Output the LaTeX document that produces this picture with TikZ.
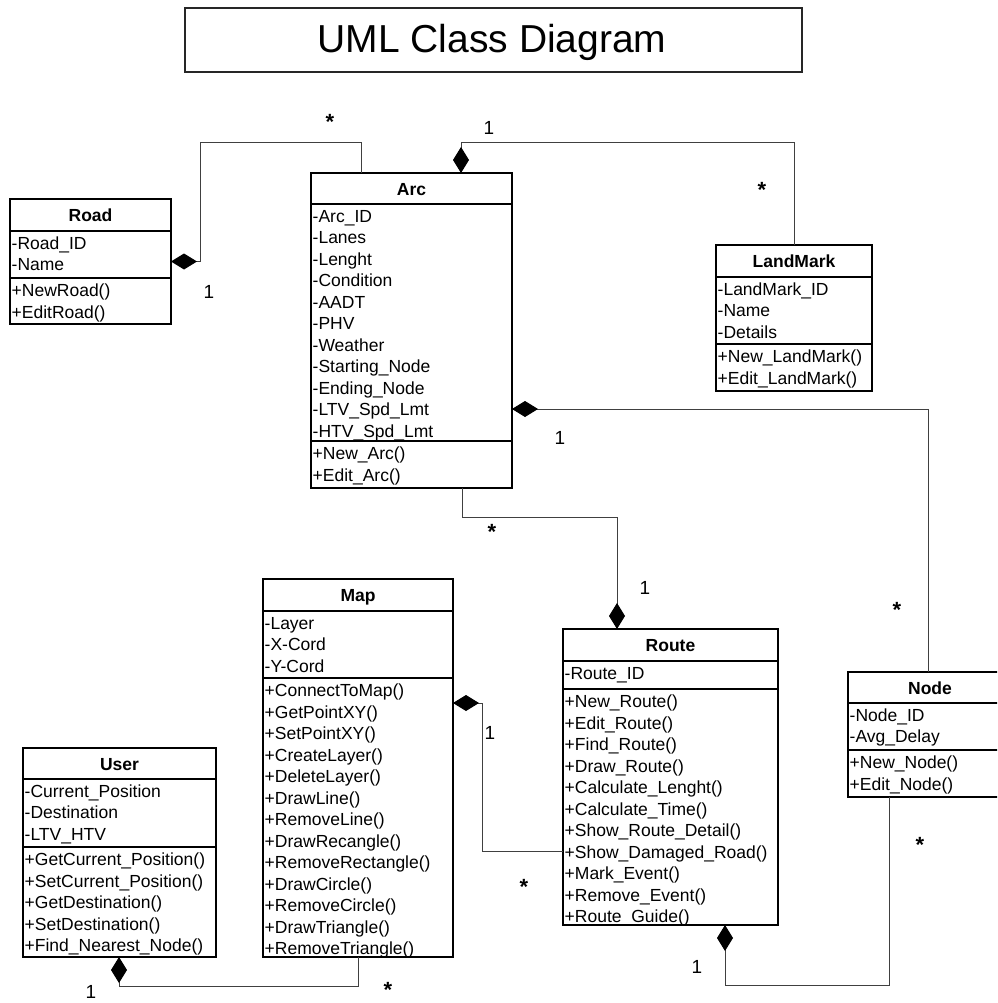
\documentclass[tikz,border=0pt]{standalone}
\usepackage{fontspec}
\setmainfont{Liberation Sans}
\usetikzlibrary{arrows.meta,calc}
\tikzset{
 classbox/.style={draw=black, line width=1.4pt, inner sep=0pt, outer sep=0pt, fill=white},
 sepline/.style={draw=black, line width=1.4pt},
 conn/.style={draw=black!75, line width=1pt},
 comp/.style={conn, -{Diamond[length=26pt,width=16pt,color=black,fill=black]}},
 txt/.style={inner sep=0pt, font=\fontsize{17.5}{21}\selectfont},
 ttl/.style={inner sep=0pt, font=\fontsize{17.5}{21}\selectfont\bfseries},
 mult/.style={inner sep=0pt, font=\fontsize{19}{19}\selectfont},
 star/.style={inner sep=0pt, font=\fontsize{22}{22}\selectfont\bfseries},
}
\newcommand\umlclass[8]{%
 \node[classbox, minimum width={#3-#2}, minimum height={#7-#4}, anchor=north west] (#1) at (#2,#4) {};
 \draw[sepline] (#2,#5) -- (#3,#5);
 \draw[sepline] (#2,#6) -- (#3,#6);
 \node[ttl, anchor=base] (#1-title) at ({(#2+#3)/2},{(#4+#5)/2+6.5}) {#8};
}
\newcommand\umllines[4]{%
 \foreach \t [count=\i] in {#4} {\node[txt, anchor=base west] (#1-\i) at ({#2+1.5},{#3+(\i-1)*21.5}) {\t};}
}
\begin{document}
\begin{tikzpicture}[x=1pt,y=-1pt]
\useasboundingbox (0,0) rectangle (997,1003);
\clip (0,0) rectangle (997,1003);
\fill[white] (0,0) rectangle (997,1003);

% title
\node[draw=black!85, line width=2pt, minimum width=617, minimum height=64, anchor=north west, inner sep=0pt] (titlebox) at (184,7) {};
\node[inner sep=0pt, font=\fontsize{39}{39}\selectfont, anchor=base] (titletext) at (492,53) {UML Class Diagram};

% classes
\umlclass{road}{10}{171}{199}{231}{278}{324}{Road}
\umllines{roada}{10}{249}{-Road\_ID,-Name}
\umllines{roadm}{10}{296.5}{+NewRoad(),+EditRoad()}

\umlclass{arc}{311}{512}{173}{204}{441}{488}{Arc}
\umllines{arca}{311}{222}{-Arc\_ID,-Lanes,-Lenght,-Condition,-AADT,-PHV,-Weather,-Starting\_Node,-Ending\_Node,-LTV\_Spd\_Lmt,-HTV\_Spd\_Lmt}
\umllines{arcm}{311}{459.5}{+New\_Arc(),+Edit\_Arc()}

\umlclass{landmark}{716}{872}{245}{277}{344}{391}{LandMark}
\umllines{lma}{716}{295}{-LandMark\_ID,-Name,-Details}
\umllines{lmm}{716}{362.5}{+New\_LandMark(),+Edit\_LandMark()}

\umlclass{map}{263}{453}{579}{611}{678}{957}{Map}
\umllines{mapa}{263}{629}{-Layer,-X-Cord,-Y-Cord}
\umllines{mapm}{263}{696.5}{+ConnectToMap(),+GetPointXY(),+SetPointXY(),+CreateLayer(),+DeleteLayer(),+DrawLine(),+RemoveLine(),+DrawRecangle(),+RemoveRectangle(),+DrawCircle(),+RemoveCircle(),+DrawTriangle(),+RemoveTriangle()}

\umlclass{route}{563}{778}{629}{661}{689}{925}{Route}
\umllines{routea}{563}{679.5}{-Route\_ID}
\umllines{routem}{563}{707.5}{+New\_Route(),+Edit\_Route(),+Find\_Route(),+Draw\_Route(),+Calculate\_Lenght(),+Calculate\_Time(),+Show\_Route\_Detail(),+Show\_Damaged\_Road(),+Mark\_Event(),+Remove\_Event(),+Route\_Guide()}

\umlclass{node}{848}{1012}{672}{703}{750}{797}{Node}
\umllines{nodea}{848}{721}{-Node\_ID,-Avg\_Delay}
\umllines{nodem}{848}{768.5}{+New\_Node(),+Edit\_Node()}

\umlclass{user}{23}{216}{748}{779}{847}{957}{User}
\umllines{usera}{23}{797}{-Current\_Position,-Destination,-LTV\_HTV}
\umllines{userm}{23}{865.5}{+GetCurrent\_Position(),+SetCurrent\_Position(),+GetDestination(),+SetDestination(),+Find\_Nearest\_Node()}

% connectors
\draw[comp] (361,0 |- arc.north) -- (361,143) -- (200,143) -- (200,0 |- road.east) -- (road.east);
\draw[comp] (794,0 |- landmark.north) -- (794,143) -- (461,143) -- (461,0 |- arc.north);
\draw[comp] (928,0 |- node.north) -- (928,409) -- (512,409);
\draw[comp] (462,0 |- arc.south) -- (462,517) -- (617,517) -- (617,0 |- route.north);
\draw[comp] (route.west |- 0,851) -- (482,851) -- (482,703) -- (map.east |- 0,703);
\draw[comp] (889,0 |- node.south) -- (889,985) -- (725,985) -- (725,0 |- route.south);
\draw[comp] (358,0 |- map.south) -- (358,986) -- (119,986) -- (119,0 |- user.south);

% multiplicities
\node[star] (m1) at (330,122) {*};
\node[mult] (m2) at (209,292) {1};
\node[mult] (m3) at (489,128) {1};
\node[star] (m4) at (762,190) {*};
\node[mult] (m5) at (560,438) {1};
\node[star] (m6) at (897,610) {*};
\node[star] (m7) at (492,532) {*};
\node[mult] (m8) at (645,588) {1};
\node[mult] (m9) at (490,733) {1};
\node[star] (m10) at (524,887) {*};
\node[mult] (m11) at (697,967) {1};
\node[star] (m12) at (920,845) {*};
\node[mult] (m13) at (91,992) {1};
\node[star] (m14) at (388,990) {*};
\end{tikzpicture}
\end{document}
